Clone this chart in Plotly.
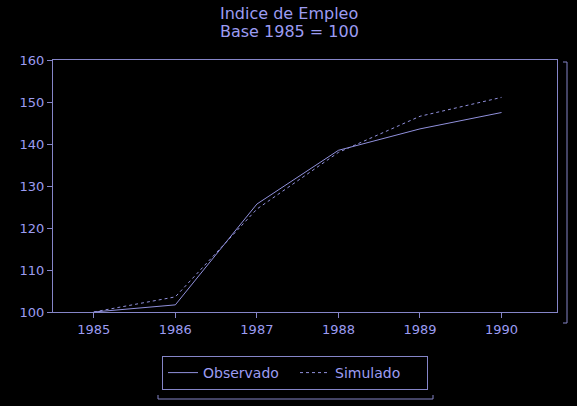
import plotly.graph_objects as go

years = [1985, 1986, 1987, 1988, 1989, 1990]
observado = [100.0, 101.7, 125.7, 138.5, 143.6, 147.5]
simulado = [100.0, 103.6, 124.5, 138.0, 146.6, 151.1]
title_lines = ["Indice de Empleo", "Base 1985 = 100"]

TXT = "#9c9cf2"
AX = "#8585c8"
LINE = "#9090dc"
FONT = "DejaVu Sans, sans-serif"

fig = go.Figure()
fig.add_trace(go.Scatter(x=years, y=observado, mode="lines", name="Observado",
                         line=dict(color=LINE, width=1)))
fig.add_trace(go.Scatter(x=years, y=simulado, mode="lines", name="Simulado",
                         line=dict(color=LINE, width=1, dash="dot")))

W, H = 577, 406
L, R, T, B = 53, 20, 60, 94
pw, ph = W - L - R, H - T - B

def px_x(x):
    return (x - L) / pw

def px_y(y):
    return (H - B - y) / ph

# right bracket
rx, ry0, ry1 = px_x(567), px_y(62), px_y(323)
rx2 = px_x(563)
# bottom bracket
bx0, bx1, by, by2 = px_x(158), px_x(433), px_y(399), px_y(395)

shapes = [
    dict(type="path", xref="paper", yref="paper",
         path=f"M {rx2} {ry0} L {rx} {ry0} L {rx} {ry1} L {rx2} {ry1}",
         line=dict(color=AX, width=1)),
    dict(type="path", xref="paper", yref="paper",
         path=f"M {bx0} {by2} L {bx0} {by} L {bx1} {by} L {bx1} {by2}",
         line=dict(color=AX, width=1)),
]

annotations = [
    dict(text=title_lines[0], xref="paper", yref="paper", x=px_x(289), y=px_y(14),
         xanchor="center", yanchor="middle", showarrow=False,
         font=dict(size=16, color=TXT, family=FONT)),
    dict(text=title_lines[1], xref="paper", yref="paper", x=px_x(289), y=px_y(32),
         xanchor="center", yanchor="middle", showarrow=False,
         font=dict(size=16, color=TXT, family=FONT)),
]

fig.update_layout(
    width=W, height=H,
    margin=dict(l=L, r=R, t=T, b=B),
    paper_bgcolor="black", plot_bgcolor="black",
    font=dict(family=FONT, color=TXT, size=13),
    xaxis=dict(range=[1984.5, 1990.68], tickvals=years, ticktext=[str(y) for y in years],
               showgrid=False, zeroline=False, showline=True, linecolor=AX, linewidth=1,
               mirror=True, ticks="outside", ticklen=5, tickcolor=AX,
               tickfont=dict(size=13, color=TXT)),
    yaxis=dict(range=[100, 160], tickvals=[100, 110, 120, 130, 140, 150, 160],
               showgrid=False, zeroline=False, showline=True, linecolor=AX, linewidth=1,
               mirror=True, ticks="outside", ticklen=5, tickcolor=AX,
               tickfont=dict(size=13, color=TXT)),
    showlegend=True,
    legend=dict(orientation="h", x=px_x(162), xanchor="left", y=px_y(356), yanchor="top",
                bordercolor=AX, borderwidth=1, bgcolor="black",
                entrywidth=87, entrywidthmode="pixels",
                font=dict(size=14, color=TXT, family=FONT)),
    shapes=shapes,
    annotations=annotations,
)

fig.write_html("out.html", config={"displayModeBar": False},
               post_script="document.body.style.margin='0';document.body.style.overflow='hidden';")
